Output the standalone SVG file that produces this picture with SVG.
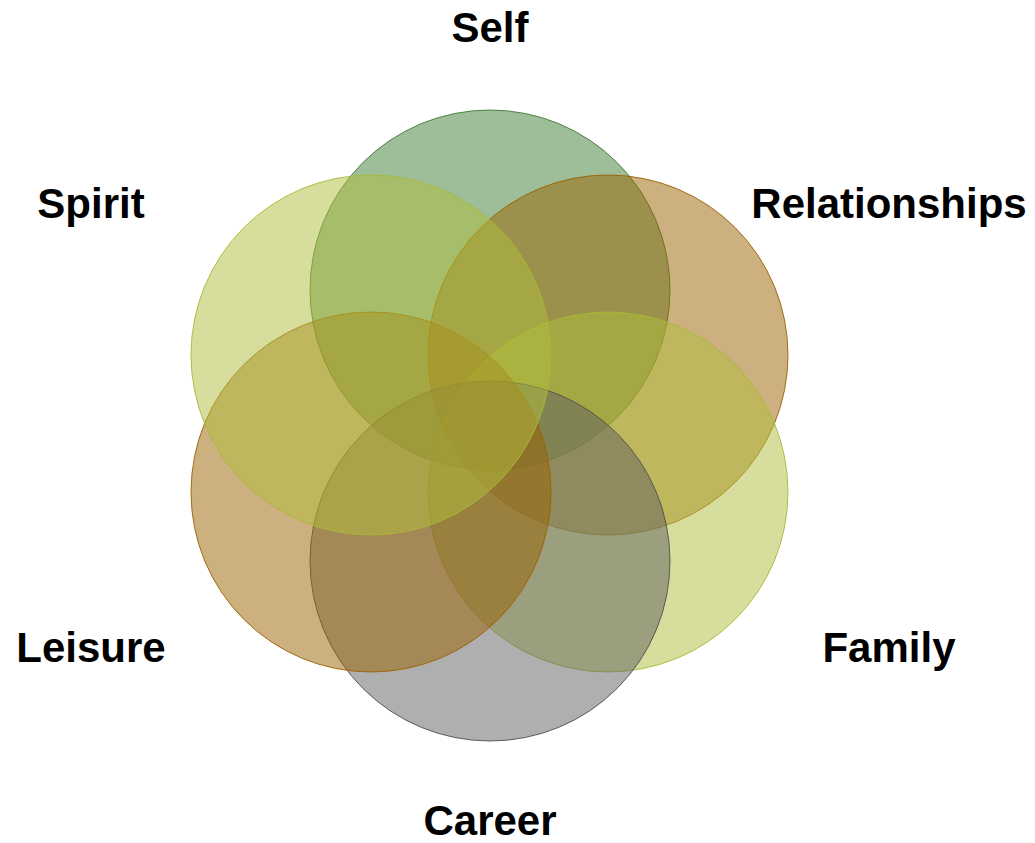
<svg xmlns="http://www.w3.org/2000/svg" width="1035" height="843" viewBox="0 0 1035 843">
  <style>
    .petal { stroke-width: 1; fill-opacity: 0.5; stroke-opacity: 0.9; }
    .green { fill: #3b7d31; stroke: #3f7a33; }
    .brown { fill: #9a6200; stroke: #9a6200; }
    .lime  { fill: #afbd3b; stroke: #a8b835; }
    .grey  { fill: #5f5f5f; stroke: #505050; }
    .label { font-family: "Liberation Sans", Arial, sans-serif; font-weight: bold; font-size: 42px; fill: #000; text-anchor: middle; }
  </style>
  <rect width="1035" height="843" fill="#fff"/>
  <g id="self">
    <circle class="petal green" cx="490" cy="290" r="180"/>
    <text class="label" x="490" y="42">Self</text>
  </g>
  <g id="relationships">
    <circle class="petal brown" cx="608" cy="355" r="180"/>
    <text class="label" x="889" y="218">Relationships</text>
  </g>
  <g id="family">
    <circle class="petal lime" cx="608" cy="492" r="180"/>
    <text class="label" x="889" y="662">Family</text>
  </g>
  <g id="career">
    <circle class="petal grey" cx="490" cy="561" r="180"/>
    <text class="label" x="490" y="835">Career</text>
  </g>
  <g id="leisure">
    <circle class="petal brown" cx="371" cy="492" r="180"/>
    <text class="label" x="91" y="662">Leisure</text>
  </g>
  <g id="spirit">
    <circle class="petal lime" cx="371" cy="355" r="180"/>
    <text class="label" x="91" y="218">Spirit</text>
  </g>
  <g id="connectors"/>
</svg>
